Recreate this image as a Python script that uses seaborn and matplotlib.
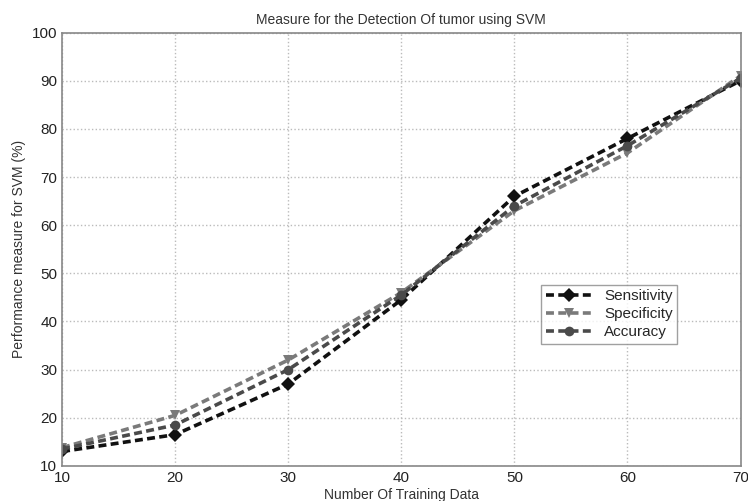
import matplotlib
matplotlib.use("Agg")
import matplotlib.pyplot as plt
import seaborn as sns
import pandas as pd

training = [10, 20, 30, 40, 50, 60, 70]
sensitivity = [13.0, 16.5, 27.0, 44.5, 66.0, 78.0, 90.0]
specificity = [13.8, 20.5, 32.0, 46.0, 63.0, 75.0, 91.0]
accuracy = [13.5, 18.5, 30.0, 45.5, 64.0, 76.5, 90.5]
series_names = ["Sensitivity", "Specificity", "Accuracy"]

df = pd.DataFrame({
    "x": training * 3,
    "y": sensitivity + specificity + accuracy,
    "Measure": [series_names[0]] * 7 + [series_names[1]] * 7 + [series_names[2]] * 7,
})

sns.set_style("white")
plt.rcParams['font.family'] = ['Liberation Sans', 'DejaVu Sans']

fig, ax = plt.subplots(figsize=(7.48, 5.01), dpi=100)
fig.subplots_adjust(left=0.083, right=0.99, top=0.935, bottom=0.07)

palette = {"Sensitivity": "#111111", "Specificity": "#7a7a7a", "Accuracy": "#4a4a4a"}
markers = {"Sensitivity": "D", "Specificity": "v", "Accuracy": "o"}
sns.lineplot(data=df, x="x", y="y", hue="Measure", style="Measure",
             palette=palette, markers=markers, dashes=False, ax=ax,
             linewidth=2.6, markersize=7, markeredgewidth=0)
for line in ax.get_lines():
    line.set_linestyle((0, (2.2, 1.2)))

ax.set_xlim(10, 70)
ax.set_ylim(10, 100)
ax.set_xticks(training)
ax.set_yticks(range(10, 101, 10))
ax.grid(True, linestyle=':', color='#bbbbbb', linewidth=1)
for s in ax.spines.values():
    s.set_color('#888888')
    s.set_linewidth(1.2)
ax.tick_params(labelsize=11, colors='#222222', direction='in', length=4)
ax.set_title("Measure for the Detection Of tumor using SVM", fontsize=10, color='#333333')
ax.set_xlabel("Number Of Training Data", fontsize=10, color='#333333', labelpad=2)
ax.set_ylabel("Performance measure for SVM (%)", fontsize=10, color='#333333')

leg = ax.legend(loc='center left', bbox_to_anchor=(0.695, 0.35), fontsize=11,
                frameon=True, fancybox=False, edgecolor='#888888', handlelength=3,
                borderpad=0.3, labelspacing=0.25)
for h in leg.get_lines():
    h.set_linestyle((0, (2.2, 1.2)))
    h.set_linewidth(2.6)

fig.savefig("out.png", dpi=100)
